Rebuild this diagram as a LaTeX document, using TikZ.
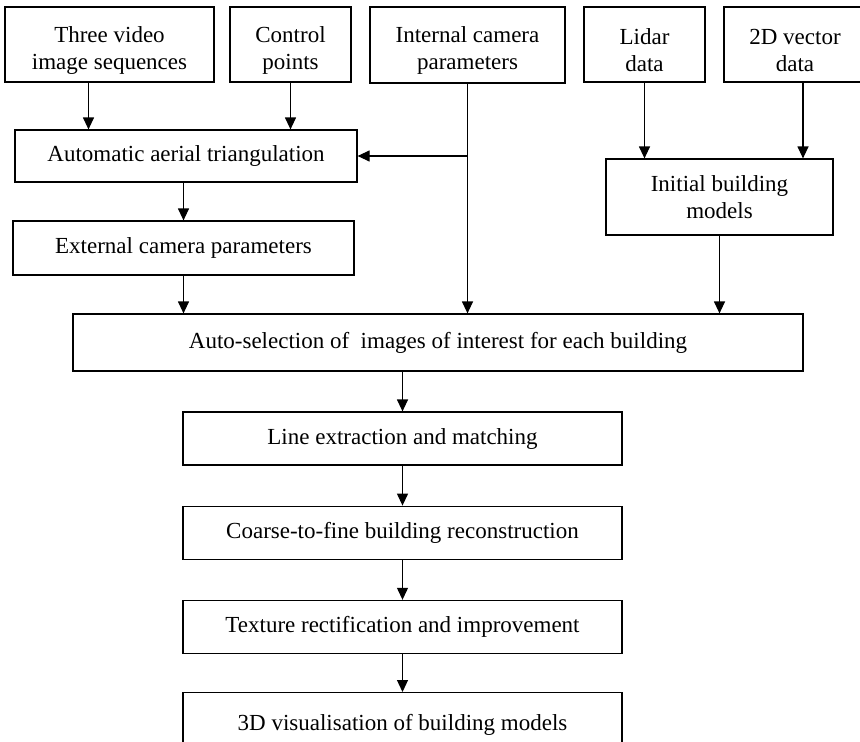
\documentclass[tikz,border=0pt]{standalone}
\usepackage{fontspec}
\setmainfont{Liberation Serif}
\usetikzlibrary{arrows.meta,positioning}
\newcommand{\inpstrut}{\rule{0pt}{27pt}}

\begin{document}
\begin{tikzpicture}[x=1pt,y=-1pt,
  box/.style={draw,line width=1.2pt,align=center,inner sep=0pt,font=\fontsize{23}{27}\selectfont},
  inbox/.style={box,minimum height=75pt},
  stepbox/.style={box,minimum width=439pt,minimum height=53pt},
  arr/.style={-{Triangle[length=12pt,width=11pt]},line width=1.2pt}
]
  \useasboundingbox (0,0) rectangle (860,742);
  % inputs
  \node[inbox,minimum width=209pt] (seq) at (109.5,44.5) {\inpstrut Three video\\image sequences};
  \node[inbox,minimum width=121pt] (ctrl) at (290.5,44.5) {\inpstrut Control\\points};
  \node[inbox,minimum width=195pt,minimum height=76pt] (intc) at (467.5,45) {\inpstrut Internal camera\\parameters};
  \node[inbox,minimum width=121pt] (lidar) at (644.5,44.5) {\inpstrut Lidar\\data};
  \node[inbox,minimum width=142pt] (vec) at (795,44.5) {\inpstrut 2D vector\\data};
  % intermediate results
  \node[box,minimum width=342pt,minimum height=52pt] (aat) at (186,156) {Automatic aerial triangulation};
  \node[box,minimum width=341pt,minimum height=54pt] (ecp) at (183.5,248) {External camera parameters};
  \node[box,minimum width=227pt,minimum height=76pt] (ibm) at (719.5,197) {Initial building\\models};
  \node[box,minimum width=730pt,minimum height=57pt] (auto) at (438,342.5) {Auto-selection of\ \ images of interest for each building};
  % processing chain
  \node[stepbox] (lem) at (402.5,438.5) {Line extraction and matching};
  \node[stepbox,below=40pt of lem] (cfb) {Coarse-to-fine building reconstruction};
  \node[stepbox,below=40pt of cfb] (tex) {Texture rectification and improvement};
  \node[box,minimum width=439pt,minimum height=65pt,below=38pt of tex.south,anchor=north] (vis) {3D visualisation of building models};
  % connectors
  \coordinate (jn) at (intc.south |- aat.east);
  \draw[arr] ([xshift=-21pt]seq.south) -- ([xshift=-21pt]seq.south |- aat.north);
  \draw[arr] (ctrl.south) -- (ctrl.south |- aat.north);
  \draw[arr] (intc.south) -- (intc.south |- auto.north);
  \draw[arr] (jn) -- (aat.east);
  \draw[arr] (aat.south -| ecp.north) -- (ecp.north);
  \draw[arr] (ecp.south) -- (ecp.south |- auto.north);
  \draw[arr] (lidar.south) -- (lidar.south |- ibm.north);
  \draw[arr] ([xshift=8pt]vec.south) -- ([xshift=8pt]vec.south |- ibm.north);
  \draw[arr] (ibm.south) -- (ibm.south |- auto.north);
  \draw[arr] (auto.south -| lem.north) -- (lem.north);
  \draw[arr] (lem) -- (cfb);
  \draw[arr] (cfb) -- (tex);
  \draw[arr] (tex) -- (vis);
\end{tikzpicture}
\end{document}
